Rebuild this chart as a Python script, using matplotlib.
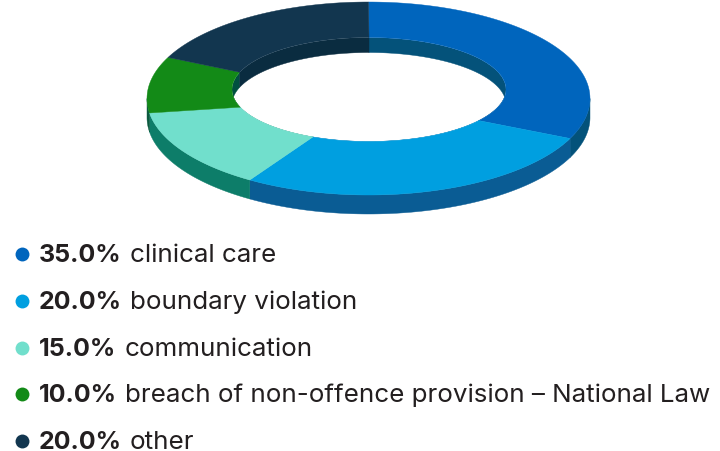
#! /usr/bin/env python
"""
Ring chart with a fake 3D look and a text legend under it
"""

import matplotlib
matplotlib.use('Agg')
import matplotlib.pyplot as plt
import numpy as np
from matplotlib.patches import Ellipse

CATEGORIES = ['clinical care', 'boundary violation', 'communication',
              'breach of non-offence provision – National Law', 'other']
# what the labels say
LABEL_PCT = [35.0, 20.0, 15.0, 10.0, 20.0]
# what the ring shows: the slices are not drawn to the labels, sweeps read off the picture
DRAWN_PCT = [31.8, 27.2, 13.6, 9.4, 18.0]

TOP_COLORS = ['#0065bd', '#009fe0', '#71dfcc', '#138a17', '#12364f']
OUTER_WALL = ['#03527a', '#0a5c94', '#0d7d69', '#0b5a3f', '#12364f']
INNER_WALL = ['#04527a', '#0a5c94', '#0d7d69', '#005040', '#0a2c40']
TEXT_COLOR = '#231f20'

OUTER = (368.5, 98.5, 221.5, 96.5)
INNER = (369.0, 89.5, 137.0, 52.0)
HUB = (368.5, 99.0)
OUTER_DEPTH = 19
INNER_DEPTH = 15

FONT = 'Inter'
BOLD_SIZE = 18
FONT_SIZE = 18.7


def arc(ellipse, start, stop, shift=0):
  cx, cy, rx, ry = ellipse
  steps = np.radians(np.linspace(start, stop, 120))
  return np.column_stack((cx + rx * np.sin(steps), cy - ry * np.cos(steps) + shift))


def inner_angle(angle):
  # the slice edges run from the hub to the outer rim, follow that ray to the hole
  rad = np.radians(angle)
  cx, cy, rx, ry = OUTER
  dx = cx + rx * np.sin(rad) - HUB[0]
  dy = cy - ry * np.cos(rad) - HUB[1]
  ox = (HUB[0] - INNER[0]) / INNER[2]
  oy = (HUB[1] - INNER[1]) / INNER[3]
  vx, vy = dx / INNER[2], dy / INNER[3]
  a, b, c = vx * vx + vy * vy, 2 * (ox * vx + oy * vy), ox * ox + oy * oy - 1
  s = (-b + np.sqrt(b * b - 4 * a * c)) / (2 * a)
  return np.degrees(np.arctan2(ox + s * vx, -(oy + s * vy))) % 360


def draw_ring(ax):
  edges = np.cumsum([0] + DRAWN_PCT) / np.sum(DRAWN_PCT) * 360
  inner_edges = [0] + [inner_angle(e) for e in edges[1:-1]] + [360]
  hole = Ellipse(INNER[:2], INNER[2] * 2, INNER[3] * 2, transform=ax.transData)

  for idx, color in enumerate(TOP_COLORS):
    start, stop = edges[idx], edges[idx + 1]
    in_start, in_stop = inner_edges[idx], inner_edges[idx + 1]

    # outer wall, only the part turned towards the viewer
    low, high = max(start, 90), min(stop, 270)
    if low < high:
      top = arc(OUTER, low, high)
      bottom = arc(OUTER, high, low, OUTER_DEPTH)
      ax.fill(*np.vstack((top, bottom)).T, color=OUTER_WALL[idx], lw=0.3, zorder=1)

    # wall inside the hole, clipped so that only the far side shows
    top = arc(INNER, in_start, in_stop)
    bottom = arc(INNER, in_stop, in_start, INNER_DEPTH)
    wall = ax.fill(*np.vstack((top, bottom)).T, color=INNER_WALL[idx], lw=0.3, zorder=1)[0]
    wall.set_clip_path(hole)

    # top face
    face = np.vstack((arc(OUTER, start, stop), arc(INNER, in_stop, in_start)))
    ax.fill(*face.T, color=color, lw=0.3, zorder=2)


def draw_legend(ax, renderer):
  first_base, row_gap = 262, 46.8
  for idx, (label, pct) in enumerate(zip(CATEGORIES, LABEL_PCT)):
    base = first_base + idx * row_gap
    ax.scatter(22, base - 8, s=100, color=TOP_COLORS[idx], lw=0, zorder=3)
    bold = ax.text(39, base, f'{pct:.1f}%', family=FONT, fontsize=BOLD_SIZE, weight='bold',
                   color=TEXT_COLOR, va='baseline')
    end = bold.get_window_extent(renderer).x1
    ax.text(end + 8, base, label, family=FONT, fontsize=FONT_SIZE, color=TEXT_COLOR,
            va='baseline')


def main():
  fig = plt.figure(figsize=(7.2, 4.51), dpi=100, facecolor='white')
  ax = fig.add_axes([0, 0, 1, 1])
  ax.set_xlim(0, 720)
  ax.set_ylim(451, 0)
  ax.axis('off')

  draw_ring(ax)
  draw_legend(ax, fig.canvas.get_renderer())

  fig.savefig('out.png', dpi=100)
  plt.close()


if __name__ == "__main__":
  main()
